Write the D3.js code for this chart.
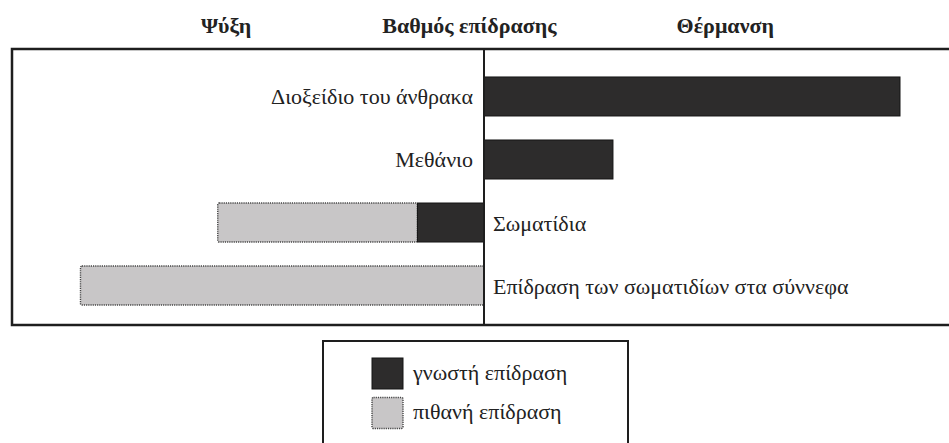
<!DOCTYPE html>
<html>
<head>
<meta charset="utf-8">
<script src="https://cdn.jsdelivr.net/npm/d3@7"></script>
<style>
  html, body { margin: 0; padding: 0; background: #fff; }
  svg { display: block; }
  text { font-family: "Liberation Serif", "Times New Roman", serif; fill: #222; }
</style>
</head>
<body>
<svg id="chart" width="949" height="443"></svg>
<script>
// ---- data ----
const categories = ["Διοξείδιο του άνθρακα", "Μεθάνιο", "Σωματίδια", "Επίδραση των σωματιδίων στα σύννεφα"];
const knownEffect = [100, 31, -16, 0];      // γνωστή επίδραση
const possibleEffect = [0, 0, -48, -97];    // πιθανή επίδραση (added beyond the known effect)
const headings = ["Ψύξη", "Βαθμός επίδρασης", "Θέρμανση"];
const legendLabels = ["γνωστή επίδραση", "πιθανή επίδραση"];

// ---- layout ----
const svg = d3.select("#chart");
const dark = "#2d2c2c", light = "#c8c6c7";

const x = d3.scaleLinear().domain([-100, 100]).range([68, 900]);
const y = d3.scaleBand().domain(categories).range([65, 317]).paddingInner(0.381).paddingOuter(0.19);

// frame
const frame = { left: 12, top: 49, right: 960, bottom: 325 };
svg.append("rect")
  .attr("x", frame.left).attr("y", frame.top)
  .attr("width", frame.right - frame.left).attr("height", frame.bottom - frame.top)
  .attr("fill", "none").attr("stroke", "#1e1e1e").attr("stroke-width", 2.5);

// headings
const headX = [x(-62), x(-3.5), x(58)];
svg.selectAll("text.head").data(headings).join("text")
  .attr("class", "head")
  .attr("x", (d, i) => headX[i]).attr("y", 33)
  .attr("text-anchor", "middle")
  .attr("font-weight", "bold").attr("font-size", 22)
  .text(d => d);

const rows = categories.map((c, i) => ({
  cat: c, known: knownEffect[i], possible: possibleEffect[i]
}));

// possible bars (light, dotted)
svg.selectAll("rect.possible").data(rows.filter(d => d.possible !== 0)).join("rect")
  .attr("class", "possible")
  .attr("x", d => Math.min(x(d.known), x(d.known + d.possible)))
  .attr("y", d => y(d.cat))
  .attr("width", d => Math.abs(x(d.known + d.possible) - x(d.known)))
  .attr("height", y.bandwidth())
  .attr("rx", 1.5)
  .attr("fill", light)
  .attr("stroke", "#444").attr("stroke-width", 1.4).attr("stroke-dasharray", "1.2,1");

// known bars (dark)
svg.selectAll("rect.known").data(rows.filter(d => d.known !== 0)).join("rect")
  .attr("class", "known")
  .attr("x", d => Math.min(x(0), x(d.known)))
  .attr("y", d => y(d.cat))
  .attr("width", d => Math.abs(x(d.known) - x(0)))
  .attr("height", y.bandwidth())
  .attr("fill", dark)
  .attr("stroke", "#151515").attr("stroke-width", 1);

// center line
svg.append("line")
  .attr("x1", x(0)).attr("x2", x(0))
  .attr("y1", frame.top).attr("y2", frame.bottom)
  .attr("stroke", "#1e1e1e").attr("stroke-width", 2);

// category labels
svg.selectAll("text.cat").data(rows).join("text")
  .attr("class", "cat")
  .attr("x", d => (d.known + d.possible) > 0 ? x(0) - 11 : x(0) + 9)
  .attr("y", d => y(d.cat) + y.bandwidth() / 2 + 8)
  .attr("text-anchor", d => (d.known + d.possible) > 0 ? "end" : "start")
  .attr("font-size", 22)
  .text(d => d.cat);

// legend
const lg = svg.append("g");
lg.append("rect")
  .attr("x", 323).attr("y", 341).attr("width", 305).attr("height", 130)
  .attr("fill", "none").attr("stroke", "#1e1e1e").attr("stroke-width", 2);
const legendY = d3.scalePoint().domain(legendLabels).range([373.5, 413]);
lg.selectAll("rect.sw").data(legendLabels).join("rect")
  .attr("class", "sw")
  .attr("x", 372).attr("y", d => legendY(d) - 15.5)
  .attr("width", 31).attr("height", 31)
  .attr("rx", (d, i) => i === 1 ? 1.5 : 0)
  .attr("fill", (d, i) => i === 0 ? dark : light)
  .attr("stroke", (d, i) => i === 0 ? "#151515" : "#444")
  .attr("stroke-width", (d, i) => i === 0 ? 1 : 1.4)
  .attr("stroke-dasharray", (d, i) => i === 0 ? null : "1.2,1");
lg.selectAll("text.lt").data(legendLabels).join("text")
  .attr("class", "lt")
  .attr("x", 413).attr("y", d => legendY(d) + 6)
  .attr("font-size", 22)
  .text(d => d);
</script>
</body>
</html>
